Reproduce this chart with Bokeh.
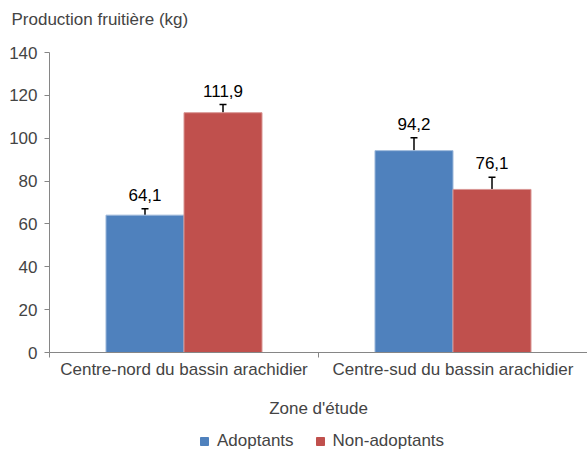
import numpy as np
from bokeh.plotting import figure
from bokeh.layouts import column
from bokeh.models import (ColumnDataSource, Range1d, FixedTicker, Whisker, TeeHead,
                          Legend, LegendItem)
from bokeh.core.properties import value
from bokeh.embed import file_html
from bokeh.resources import INLINE

# ---- data ----
zones = ["Centre-nord du bassin arachidier", "Centre-sud du bassin arachidier"]
series = ["Adoptants", "Non-adoptants"]
adoptants = [64.1, 94.2]
non_adoptants = [111.9, 76.1]
err_adoptants = [3.0, 6.0]
err_non_adoptants = [3.8, 5.7]
y_ticks = [0, 20, 40, 60, 80, 100, 120, 140]
title_text = "Production fruitière (kg)"
x_title = "Zone d'étude"

colors = ["#4F81BD", "#C0504D"]
edge_colors = ["#9DB8DA", "#D99694"]
FONT = "Liberation Sans"
FS = "17px"
W = 587


def strip(h, top=0):
    f = figure(width=W, height=h, output_backend="svg", toolbar_location=None,
               x_range=Range1d(0, 1), y_range=Range1d(0, 1), x_axis_type=None,
               y_axis_type=None, min_border=0, min_border_left=0, min_border_right=0,
               min_border_top=top, min_border_bottom=0)
    f.outline_line_color = None
    f.xgrid.grid_line_color = None
    f.ygrid.grid_line_color = None
    return f


# title strip (title drawn in its top panel)
tf = strip(36, top=34)
tf.title.text = title_text
tf.title.text_font = FONT
tf.title.text_font_size = FS
tf.title.text_font_style = "normal"
tf.title.align = "left"
tf.title.offset = -38
tf.title.standoff = 16

# main chart
p = figure(frame_width=538, frame_height=300, output_backend="svg", toolbar_location=None,
           x_range=Range1d(0, 2 * len(zones)), y_range=Range1d(0, 140),
           min_border_left=49, min_border_right=0, min_border_top=16, min_border_bottom=78)
p.outline_line_color = None
p.xgrid.grid_line_color = None
p.ygrid.grid_line_color = None

centers = np.arange(len(zones)) * 2 + 1
off = 0.29
bw = 0.58
for k, (vals, errs) in enumerate([(adoptants, err_adoptants), (non_adoptants, err_non_adoptants)]):
    xs = centers + (k - 0.5) * 2 * off
    src = ColumnDataSource(dict(x=xs, top=vals, lower=vals,
                                upper=[v + e for v, e in zip(vals, errs)],
                                lab=[f"{v:.1f}".replace(".", ",") for v in vals]))
    p.vbar(x="x", top="top", width=bw, source=src, fill_color=colors[k],
           line_color=edge_colors[k], line_width=1)
    w = Whisker(base="x", upper="upper", lower="lower", source=src, dimension="height",
                line_color="black", line_width=1.5,
                upper_head=TeeHead(size=7, line_color="black", line_width=1.5),
                lower_head=None)
    p.add_layout(w)
    p.text(x="x", y="upper", text="lab", source=src, text_align="center",
           text_baseline="bottom", y_offset=-8, text_font=value(FONT),
           text_font_size=FS, text_color="black")

# y axis
ya = p.yaxis[0]
ya.ticker = FixedTicker(ticks=y_ticks)
ya.axis_line_color = "#868686"
ya.major_tick_line_color = "#868686"
ya.major_tick_out = 5
ya.major_tick_in = 0
ya.minor_tick_line_color = None
ya.major_label_text_font = FONT
ya.major_label_text_font_size = FS
ya.major_label_standoff = 7

# x axis
xa = p.xaxis[0]
xa.ticker = FixedTicker(ticks=list(centers), minor_ticks=list(range(0, 2 * len(zones) + 1, 2)))
xa.major_label_overrides = {int(c): z for c, z in zip(centers, zones)}
xa.axis_line_color = "#868686"
xa.major_tick_line_color = None
xa.major_tick_out = 0
xa.major_tick_in = 0
xa.minor_tick_line_color = "#868686"
xa.minor_tick_out = 5
xa.minor_tick_in = 0
xa.major_label_text_font = FONT
xa.major_label_text_font_size = FS
xa.major_label_standoff = 2
xa.axis_label = x_title
xa.axis_label_text_font = FONT
xa.axis_label_text_font_size = FS
xa.axis_label_text_font_style = "normal"
xa.axis_label_standoff = 17

# legend strip below the chart (swatch renderers have zero height, so draw nothing)
lg = strip(21)
swatches = [lg.vbar(x=[0.5], top=[0], width=0.1, fill_color=c, line_color=c) for c in colors]
legend = Legend(items=[LegendItem(label=s, renderers=[r]) for s, r in zip(series, swatches)],
                orientation="horizontal", location=(150, 0),
                glyph_width=10, glyph_height=10, label_text_font=FONT,
                label_text_font_size=FS, spacing=21, border_line_color=None,
                background_fill_alpha=0, padding=0, margin=0, label_standoff=8,
                label_height=20)
lg.add_layout(legend, "center")

layout = column(tf, p, lg, spacing=0)
open("out.html", "w").write(file_html(layout, INLINE))
